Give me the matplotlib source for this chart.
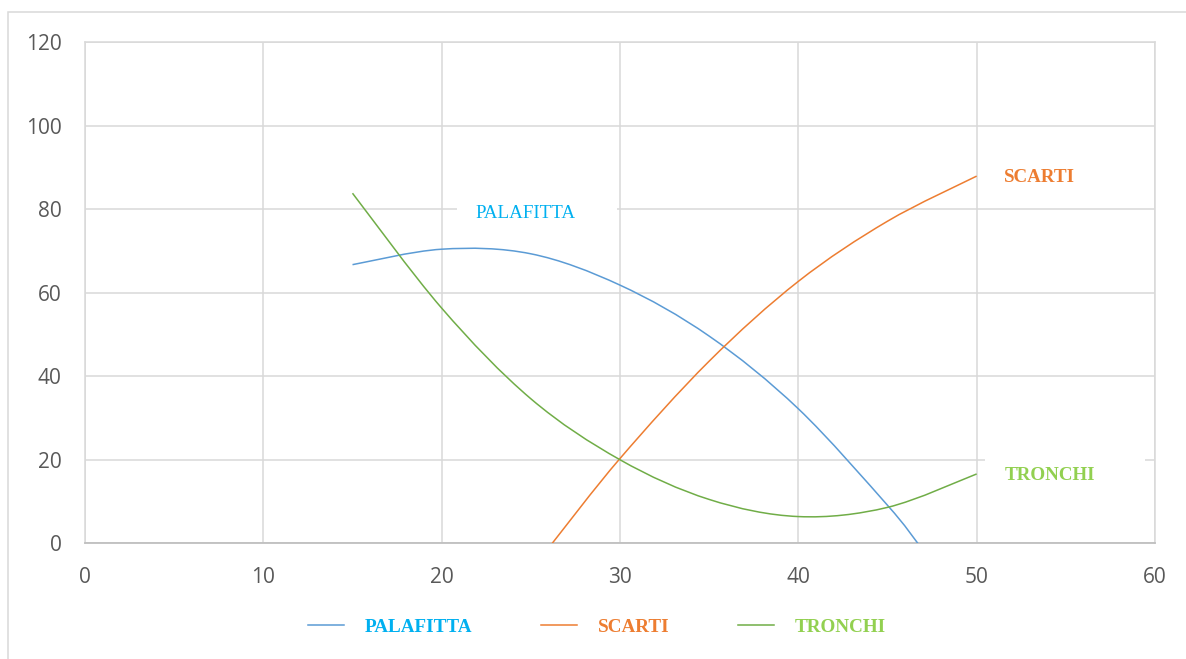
import numpy as np
import matplotlib
matplotlib.use('Agg')
import matplotlib.pyplot as plt
from matplotlib.path import Path
from matplotlib.patches import PathPatch, Rectangle
from matplotlib.lines import Line2D

# valori letti per ciascuna serie (x, y)
x_palafitta = [15, 20, 25, 30, 35, 40, 45, 46.7]
y_palafitta = [66.7, 70.4, 69.3, 61.8, 49.6, 32.2, 9.1, 0.0]

x_scarti = [26.2, 30, 35, 40, 45, 50]
y_scarti = [0.0, 20.3, 43.6, 62.7, 77.1, 87.9]

x_tronchi = [15, 20, 25, 30, 35, 40, 45, 50]
y_tronchi = [83.8, 56.3, 34.6, 20.0, 10.5, 6.4, 8.6, 16.6]

nomi = ['PALAFITTA', 'SCARTI', 'TRONCHI']
colori_linee = ['#5b9bd5', '#ed7d31', '#70ad47']
colori_testo = ['#00b0f0', '#ed7d31', '#92d050']
pos_etichette = [(24.73, 79.0), (53.5, 87.6), (54.1, 16.2)]
grassetto = ['normal', 'bold', 'bold']
# estensione orizzontale del riquadro bianco di ogni etichetta
box_etichette = [(20.85, 29.85), (50.4, 58.5), (50.45, 59.45)]

x_ticks = [0, 10, 20, 30, 40, 50, 60]
y_ticks = [0, 20, 40, 60, 80, 100, 120]


def curva_smussata(xs, ys):
    """Linea smussata tipo Excel: bezier tra i punti, con tangenti
    prese dai punti vicini."""
    p = np.column_stack([xs, ys]).astype(float)
    verts = [p[0]]
    codes = [Path.MOVETO]
    n = len(p)
    for i in range(n - 1):
        p0 = p[i - 1] if i > 0 else p[i]
        p1 = p[i]
        p2 = p[i + 1]
        p3 = p[i + 2] if i + 2 < n else p[i + 1]
        verts += [p1 + (p2 - p0) / 6.0, p2 - (p3 - p1) / 6.0, p2]
        codes += [Path.CURVE4] * 3
    return Path(verts, codes)


fig = plt.figure(figsize=(11.86, 6.59), dpi=100)
ax = fig.add_axes([85 / 1186, 115.7 / 659, 1070 / 1186, 501.3 / 659])

griglia = '#d9d9d9'
ax.set_xlim(0, 60)
ax.set_ylim(0, 120)
ax.set_xticks(x_ticks)
ax.set_yticks(y_ticks)
ax.grid(True, color=griglia, linewidth=1.1)
ax.set_axisbelow(True)
for lato in ['left', 'top', 'right']:
    ax.spines[lato].set_color(griglia)
    ax.spines[lato].set_linewidth(1.1)
ax.spines['bottom'].set_color('#bfbfbf')
ax.spines['bottom'].set_linewidth(1.3)
ax.tick_params(length=0, pad=17, labelsize=15, labelcolor='#595959')
for t in ax.get_xticklabels() + ax.get_yticklabels():
    t.set_fontfamily('Open Sans')

serie = [(x_palafitta, y_palafitta), (x_scarti, y_scarti), (x_tronchi, y_tronchi)]
for (xs, ys), col in zip(serie, colori_linee):
    ax.add_patch(PathPatch(curva_smussata(xs, ys), facecolor='none',
                           edgecolor=col, linewidth=1.1, zorder=3))

# sfondo bianco delle etichette (interrompe la griglia)
for (lx, ly), (b0, b1) in zip(pos_etichette, box_etichette):
    ax.add_patch(Rectangle((b0, ly - 4.6), b1 - b0, 9.2, facecolor='white',
                           edgecolor='none', zorder=1.5, clip_on=False))

for nome, (lx, ly), col, w in zip(nomi, pos_etichette, colori_testo, grassetto):
    ax.text(lx, ly, nome, color=col, fontsize=13.7, fontweight=w,
            fontfamily='Liberation Serif', ha='center', va='center', zorder=4)

# legenda in basso
maniglie = [Line2D([], [], color=c, linewidth=1.1) for c in colori_linee]
leg = fig.legend(maniglie, nomi, loc='center', bbox_to_anchor=(597 / 1186, 1 - 627 / 659),
                 ncol=3, frameon=False, handlelength=1.85, handletextpad=1.1,
                 columnspacing=3.6, prop={'family': 'Liberation Serif', 'weight': 'bold',
                                          'size': 13.8})
for testo, c in zip(leg.get_texts(), colori_testo):
    testo.set_color(c)

# cornice esterna del grafico
fig.add_artist(Rectangle((8 / 1186, -0.05), 1.2, 1 - 12 / 659 + 0.05,
                         transform=fig.transFigure, facecolor='none',
                         edgecolor=griglia, linewidth=1.1, clip_on=False))

fig.savefig('out.png', dpi=100)
